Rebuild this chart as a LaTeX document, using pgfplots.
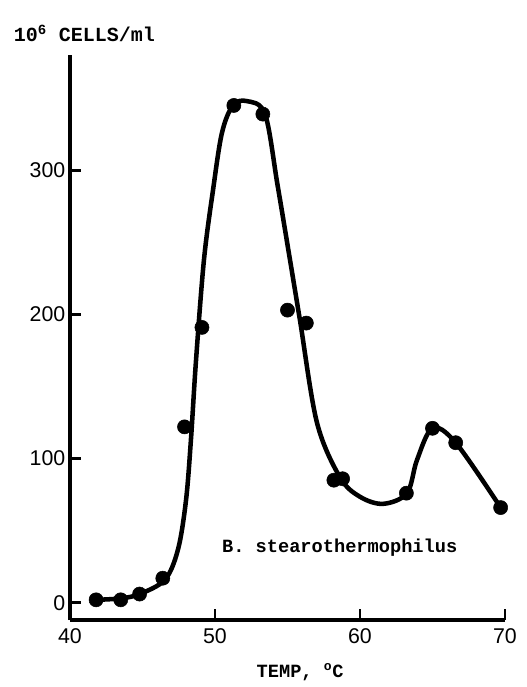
\documentclass[border=0pt]{standalone}
\usepackage{pgfplots}
\pgfplotsset{compat=1.18}
\usepackage{fontspec}
\setmainfont{Liberation Sans}
\setmonofont{Liberation Mono}
\begin{document}
\begin{tikzpicture}
\useasboundingbox (-52.5pt,-50.25pt) rectangle (342.75pt,465pt);
\begin{axis}[
  scale only axis,
  width=326.25pt, height=423.75pt,
  xmin=40, xmax=70, ymin=-12, ymax=380,
  axis x line=bottom, axis y line=left,
  axis line style={line width=2.8pt, -},
  xtick={40,50,60,70}, ytick={0,100,200,300},
  tick align=inside,
  major tick length=8pt,
  tick style={line width=2pt, black},
  ticklabel style={font=\fontsize{16}{19}\selectfont},
  xticklabel style={yshift=-3pt},
  /pgf/number format/assume math mode=true,
  clip=false,
  xlabel={\texttt{\bfseries TEMP, \textsuperscript{o}C}},
  xlabel style={font=\fontsize{14}{17}\selectfont, at={(axis description cs:0.529,-0.092)}, anchor=center},
  ylabel={\texttt{\bfseries 10\textsuperscript{6} CELLS/ml}},
  ylabel style={font=\fontsize{15}{18}\selectfont, rotate=-90, at={(axis description cs:-0.14,1.039)}, anchor=west},
]
% smooth curve
\addplot[black, line width=3.4pt, smooth, tension=0.55] coordinates {
(41.8,2) (43.5,3) (44.8,6) (46.55,16) (47.45,37) (48.0,71) (48.34,113)
(48.69,168) (49.24,238) (49.86,286) (50.48,326) (51.24,345) (52.2,348)
(53.45,339) (54.31,290) (55.17,238) (55.86,196) (57.03,125)
(58.62,87) (60.0,73.5) (61.6,68.6) (63.24,76) (63.93,99) (65.0,121)
(66.6,111) (69.7,66)};
% measured points
\addplot[only marks, mark=*, mark size=5.3pt, black] coordinates {
(41.8,2) (43.5,2) (44.8,6) (46.4,17) (47.9,122) (49.1,191) (51.3,345) (53.3,339)
(55.0,203) (56.3,194) (58.2,85) (58.8,86) (63.2,76) (65.0,121) (66.6,111) (69.7,66)};
\node[font=\fontsize{14}{17}\selectfont\ttfamily\bfseries] at (axis cs:58.6,38) {B. stearothermophilus};
\end{axis}
\end{tikzpicture}
\end{document}
